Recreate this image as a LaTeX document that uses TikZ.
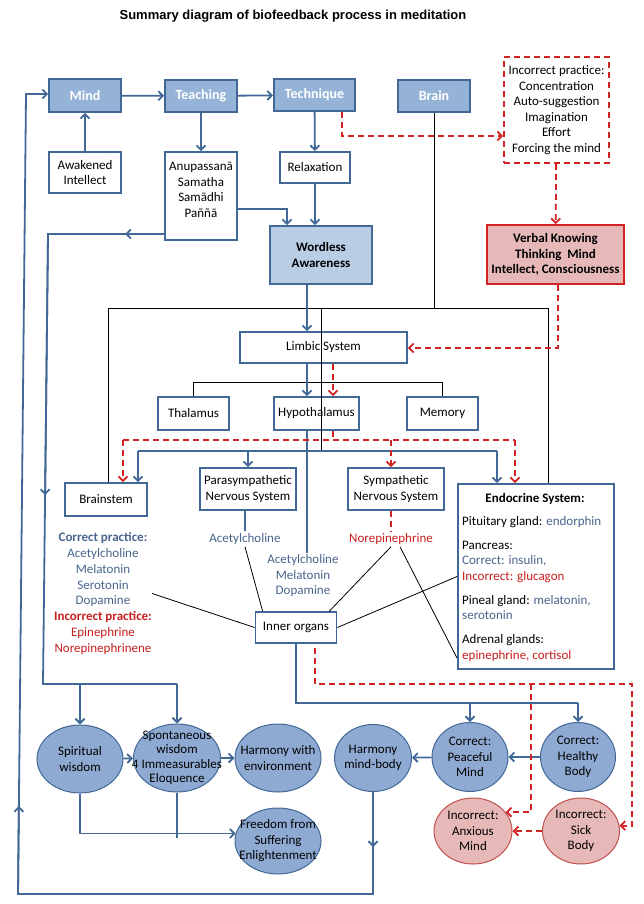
\documentclass[tikz,border=0pt]{standalone}
\usepackage{fontspec}
\setmainfont{Carlito}
\newfontfamily\titlefont{Liberation Sans}
\usetikzlibrary{arrows.meta,shapes.geometric,calc}
\definecolor{boxblue}{RGB}{149,179,215}
\definecolor{lightblue}{RGB}{185,205,229}
\definecolor{lineblue}{RGB}{65,104,150}
\definecolor{textblue}{RGB}{72,100,140}
\definecolor{circblue}{RGB}{143,170,210}
\definecolor{pinkfill}{RGB}{230,185,184}
\definecolor{pinkline}{RGB}{192,80,77}
\definecolor{redline}{RGB}{210,35,35}
\definecolor{redtext}{RGB}{200,30,30}
\begin{document}
\begin{tikzpicture}[x=1pt,y=-1pt,font=\fontsize{13}{15.5}\selectfont,
	>={Straight Barb[length=4.5pt,width=9pt]},
	bluebox/.style={draw=lineblue,line width=1.8pt,fill=boxblue,text=white,inner sep=0pt,
		font=\fontsize{14}{16}\selectfont\bfseries},
	whitebox/.style={draw=lineblue,line width=1.8pt,fill=white,align=center,inner sep=0pt},
	wordbox/.style={draw=lineblue,line width=1.8pt,fill=lightblue,align=center,inner sep=0pt,
		font=\fontsize{13}{16}\selectfont\bfseries},
	redbox/.style={draw=redline,line width=1.8pt,dash pattern=on 6pt off 4pt,fill=white,
		align=center,inner sep=0pt},
	verbalbox/.style={draw=redline,line width=1.8pt,fill=pinkfill,align=center,inner sep=0pt,
		font=\fontsize{13}{15.5}\selectfont\bfseries},
	circ/.style={ellipse,draw=lineblue,line width=1pt,fill=circblue,inner sep=0pt},
	pinkcirc/.style={ellipse,draw=pinkline,line width=1pt,fill=pinkfill,inner sep=0pt},
	lbl/.style={align=center,inner sep=0pt},
	bline/.style={draw=lineblue,line width=1.8pt},
	rline/.style={draw=redline,line width=1.8pt,dash pattern=on 6pt off 4pt},
	kline/.style={draw=black,line width=0.8pt}]
	\useasboundingbox (0,0) rectangle (644,904);

	\node (title) at (293,16) {\titlefont\fontsize{13}{15}\selectfont\bfseries Summary diagram of biofeedback process in meditation};

	% top part
	\node[bluebox,minimum width=72,minimum height=33] (mind) at (85,95.5) {Mind};
	\node[bluebox,minimum width=72,minimum height=32] (teach) at (201,96) {Teaching};
	\node[bluebox,minimum width=81,minimum height=32] (tech) at (314.5,95) {Technique};
	\node[bluebox,minimum width=72,minimum height=32] (brain) at (434,96) {Brain};
	\node[redbox,minimum width=105,minimum height=106] (incorr) at (556.5,110)
		{Incorrect practice:\\Concentration\\Auto-suggestion\\Imagination\\Effort\\Forcing the mind};
	\node[whitebox,minimum width=72,minimum height=41] (awake) at (85,172.5) {Awakened\\Intellect};
	\node[whitebox,minimum width=72,minimum height=88] (anu) at (201,196) {};
	\node[lbl] (anutxt) at (201,190) {Anupassanā\\Samatha\\Samādhi\\Paññā};
	\node[whitebox,minimum width=70,minimum height=31] (relax) at (315,167.5) {Relaxation};
	\node[wordbox,minimum width=102,minimum height=58] (words) at (321,255) {Wordless\\Awareness};
	\node[verbalbox,minimum width=137,minimum height=59] (verbal) at (555.5,254.5)
		{Verbal Knowing\\Thinking~ Mind\\Intellect, Consciousness};

	% brain part
	\node[whitebox,minimum width=167,minimum height=31] (limbic) at (323.5,347.5) {Limbic System};
	\node[whitebox,minimum width=71,minimum height=33] (thal) at (193.5,413.5) {Thalamus};
	\node[whitebox,minimum width=85,minimum height=33] (hypo) at (316.5,413.5) {Hypothalamus};
	\node[whitebox,minimum width=71,minimum height=33] (memory) at (442.5,413.5) {Memory};
	\node[whitebox,minimum width=82,minimum height=33] (brainstem) at (106,499.5) {Brainstem};
	\node[whitebox,minimum width=96,minimum height=42] (para) at (248,489) {Parasympathetic\\Nervous System};
	\node[whitebox,minimum width=96,minimum height=42] (symp) at (396,489) {Sympathetic\\Nervous System};
	\node[whitebox,minimum width=156,minimum height=185] (endo) at (536,576.5) {};
	\node[font=\fontsize{13}{15.5}\selectfont\bfseries] (endotitle) at (535,499) {Endocrine System:};
	\node[anchor=north west,align=left,inner sep=0pt,font=\fontsize{13}{15.5}\selectfont] (endotext) at (462,516)
		{Pituitary gland: \textcolor{textblue}{endorphin}\\[8.5pt]
		Pancreas:\\
		\textcolor{textblue}{Correct: insulin,}\\
		\textcolor{redtext}{Incorrect: glucagon}\\[8.5pt]
		Pineal gland: \textcolor{textblue}{melatonin,}\\
		\textcolor{textblue}{serotonin}\\[8.5pt]
		Adrenal glands:\\
		\textcolor{redtext}{epinephrine, cortisol}};
	\node[whitebox,minimum width=81,minimum height=31] (inner) at (296,627.5) {Inner organs};

	\node[lbl,text=textblue,font=\fontsize{13}{15.8}\selectfont] (lblcorr) at (103,593.5)
		{\textbf{Correct practice:}\\Acetylcholine\\Melatonin\\Serotonin\\Dopamine\\
		\textcolor{redtext}{\textbf{Incorrect practice:}}\\\textcolor{redtext}{Epinephrine}\\
		\textcolor{redtext}{Norepinephrinene}};
	\node[lbl,inner sep=2pt,text=textblue] (lblpara) at (245,539) {Acetylcholine};
	\node[lbl,inner sep=2pt,text=textblue] (lblmid) at (303,576) {Acetylcholine\\Melatonin\\Dopamine};
	\node[lbl,inner sep=2pt,text=redtext] (lblsymp) at (391,539) {Norepinephrine};

	% results
	\node[circ,minimum width=86,minimum height=68,label={[lbl]center:{Spiritual\\wisdom}}] (spirit) at (80,759) {};
	\node[circ,minimum width=87,minimum height=68,
		label={[lbl,font=\fontsize{13}{14.5}\selectfont]center:{Spontaneous\\wisdom\\4 Immeasurables\\Eloquence}}] (spont) at (177,758) {};
	\node[circ,minimum width=86,minimum height=68,label={[lbl]center:{Harmony with\\environment}}] (henv) at (278,758) {};
	\node[circ,minimum width=86,minimum height=66,label={[lbl]center:{Freedom from\\Suffering\\Enlightenment}}] (freedom) at (278,841) {};
	\node[circ,minimum width=77,minimum height=67,label={[lbl]center:{Harmony\\mind-body}}] (hmb) at (373,758) {};
	\node[circ,minimum width=76,minimum height=69,label={[lbl]center:{Correct:\\Peaceful\\Mind}}] (peace) at (470,757) {};
	\node[circ,minimum width=75,minimum height=69,label={[lbl]center:{Correct:\\Healthy\\Body}}] (healthy) at (578,757) {};
	\node[pinkcirc,minimum width=78,minimum height=66,label={[lbl]center:{Incorrect:\\Anxious\\Mind}}] (anxious) at (473,831) {};
	\node[pinkcirc,minimum width=77,minimum height=66,label={[lbl]center:{Incorrect:\\Sick\\Body}}] (sick) at (581,831) {};

	% coordinates for bends
	\coordinate (kredA) at (342,136);
	\coordinate (kanu) at (287,209);
	\coordinate (kinA) at (48,234);
	\coordinate (kinB) at (43,684);
	\coordinate (kboxL) at (108,308);
	\coordinate (kboxR) at (548,308);
	\coordinate (ktop) at (321,308);
	\coordinate (kcol) at (307,0);
	\coordinate (krcol) at (333,0);
	\coordinate (kverb) at (558,348);
	\coordinate (kredE) at (123,440);
	\coordinate (kredF) at (515,440);
	\coordinate (kbl) at (138,451);
	\coordinate (kbr) at (497,451);
	\coordinate (kadr) at (457,658);
	\coordinate (kinner) at (297,703);
	\coordinate (kredB) at (315,648);
	\coordinate (kredC) at (632,684);
	\coordinate (kredD) at (531,684);
	\coordinate (koutB) at (18,894);
	\coordinate (koutC) at (26,94);

	% black lines
	\draw[kline] (kboxL |- brainstem.north) -- (kboxL) -- (kboxR) -- (kboxR |- endo.north);
	\draw[kline] (brain) -- (brain |- kboxL);
	\draw[kline] (ktop) -- (ktop |- kbl);
	\draw[kline] (thal.north) -- ++(0,-14) -| (memory.north);
	\draw[kline] (lblcorr.east) -- (inner.west);
	\draw[kline] (lblpara.south) -- ($(inner.north west)+(8,0)$);
	\draw[kline] (lblsymp.south) -- ($(inner.north east)+(-8,0)$);
	\draw[kline] ($(lblsymp.south)+(9,0)$) -- (kadr);
	\draw[kline] (endo.west) -- (inner.east);

	% blue connectors
	\draw[bline,->] (mind) -- (teach);
	\draw[bline,->] (teach) -- (tech);
	\draw[bline,->] (awake) -- (mind);
	\draw[bline,->] (teach) -- (anu);
	\draw[bline,->] (tech) -- (relax);
	\draw[bline,->] (kanu -| anu.east) -- (kanu) -- (kanu |- words.north);
	\draw[bline,->] (relax) -- (relax |- words.north);
	\draw[bline,->] (kcol |- words.south) -- (kcol |- limbic.north);
	\draw[bline,->] (kcol |- limbic.south) -- (kcol |- hypo.north);
	\draw[bline] (kcol |- hypo.south) -- (kcol |- lblmid.north);
	\draw[bline] (kbl) -- (kbr);
	\draw[bline,->] (kbl) -- (kbl |- brainstem.north);
	\draw[bline,->] (kbl -| para) -- (para);
	\draw[bline,->] (kbr) -- (kbr |- endo.north);
	\draw[bline] (para.south -| lblpara) -- (lblpara);
	\draw[bline] (kinA -| anu.west) -- (kinA) -- (kinB) -- (kinB -| spont);
	\draw[bline,->] (kinA -| anu.west) -- ($(kinA -| anu.west)+(-39,0)$);
	\draw[bline,->] (kinA) -- ($(kinA)!.58!(kinB)$);
	\draw[bline,->] (kinB -| spirit) -- (spirit);
	\draw[bline,->] (kinB -| spont) -- (spont);
	\draw[bline,->] (spirit) -- (spont);
	\draw[bline,->] (spont) -- (henv);
	\draw[bline,->] (spirit) |- (freedom.170);
	\draw[bline] (spont.south) -- ++(0,45);
	\draw[bline] (inner) -- (inner |- kinner) -- (kinner -| healthy);
	\draw[bline,->] (kinner -| peace) -- (peace);
	\draw[bline,->] (kinner -| healthy) -- (healthy);
	\draw[bline,->] (healthy) -- (peace);
	\draw[bline,->] (peace) -- (hmb);
	\draw[bline,->] (hmb) -- (hmb |- koutB) -- (koutB) -- (koutC) -- (koutC -| mind.west);
	\draw[bline,->] (hmb) -- ($(hmb.south)+(0,55)$);
	\draw[bline,->] (koutB) -- ($(koutB)!.11!(koutC)$);

	% red connectors
	\draw[rline,->] (kredA |- tech.south) -- (kredA) -- (kredA -| incorr.west);
	\draw[rline,->] (incorr) -- (verbal);
	\draw[rline,->] (kverb |- verbal.south) -- (kverb) -- (kverb -| limbic.east);
	\draw[rline,->] (krcol |- limbic.south) -- (krcol |- hypo.north);
	\draw[rline] (krcol |- hypo.south) -- (krcol |- kredE);
	\draw[rline] (kredE) -- (kredF);
	\draw[rline,->] (kredE) -- (kredE |- brainstem.north);
	\draw[rline,->] (kredE -| lblsymp) -- (lblsymp |- symp.north);
	\draw[rline,->] (kredF) -- (kredF |- endo.north);
	\draw[rline] (symp.south -| lblsymp) -- (lblsymp);
	\draw[rline,->] (kredB) |- (kredC) |- (sick.8);
	\draw[rline,->] (kredD) |- (anxious.30);
	\draw[rline,->] (sick) -- (anxious);
\end{tikzpicture}
\end{document}
